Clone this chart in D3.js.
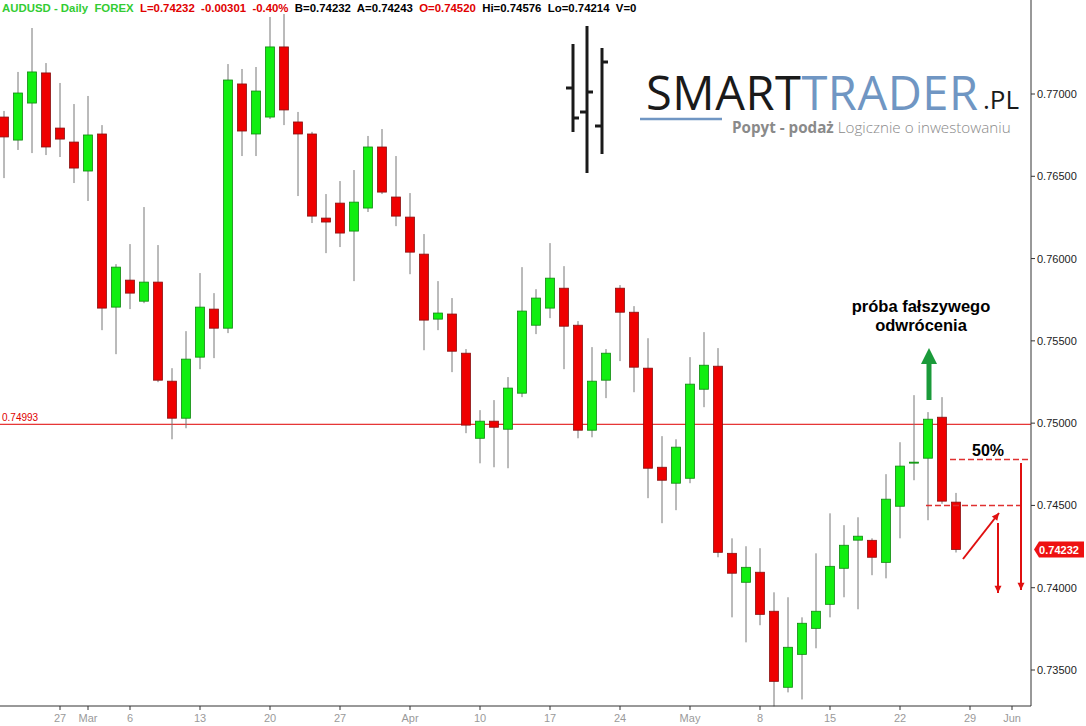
<!DOCTYPE html>
<html><head><meta charset="utf-8">
<script src="https://cdn.jsdelivr.net/npm/d3@7"></script>
<style>body{margin:0;background:#fff}svg{display:block;font-family:"Liberation Sans",Arial,sans-serif}</style>
</head><body><svg id="c" width="1086" height="726"></svg>
<script>
const dates=["2017-02-21","2017-02-22","2017-02-23","2017-02-24","2017-02-27","2017-02-28","2017-03-01","2017-03-02","2017-03-03","2017-03-06","2017-03-07","2017-03-08","2017-03-09","2017-03-10","2017-03-13","2017-03-14","2017-03-15","2017-03-16","2017-03-17","2017-03-20","2017-03-21","2017-03-22","2017-03-23","2017-03-24","2017-03-27","2017-03-28","2017-03-29","2017-03-30","2017-03-31","2017-04-03","2017-04-04","2017-04-05","2017-04-06","2017-04-07","2017-04-10","2017-04-11","2017-04-12","2017-04-13","2017-04-14","2017-04-17","2017-04-18","2017-04-19","2017-04-20","2017-04-21","2017-04-24","2017-04-25","2017-04-26","2017-04-27","2017-04-28","2017-05-01","2017-05-02","2017-05-03","2017-05-04","2017-05-05","2017-05-08","2017-05-09","2017-05-10","2017-05-11","2017-05-12","2017-05-15","2017-05-16","2017-05-17","2017-05-18","2017-05-19","2017-05-22","2017-05-23","2017-05-24","2017-05-25","2017-05-26"];
const open=[.76860,.76720,.76945,.77128,.76793,.76708,.76532,.76757,.75705,.75869,.75741,.75857,.75255,.75030,.75401,.75693,.75577,.77061,.76757,.76860,.77286,.76830,.76757,.76246,.76337,.76167,.76307,.76678,.76374,.76252,.76027,.75632,.75663,.75425,.74908,.75012,.74963,.75182,.75595,.75699,.75820,.75595,.74957,.75261,.75820,.75674,.75334,.74732,.74635,.74665,.75206,.75346,.74209,.74033,.74094,.73857,.73395,.73595,.73753,.73899,.74118,.74289,.74288,.74154,.74495,.74757,.74787,.75036,.74520];
const high=[.76897,.77134,.77401,.77188,.77067,.76939,.76988,.76811,.75966,.76088,.76313,.76082,.75334,.75559,.75912,.75790,.77182,.77152,.77164,.77468,.77486,.76891,.76770,.76392,.76471,.76538,.76745,.76787,.76623,.76398,.76149,.75863,.75760,.75450,.75079,.75140,.75280,.75948,.75814,.76094,.75954,.75620,.75462,.75450,.75839,.75711,.75516,.74921,.74902,.75401,.75553,.75456,.74300,.74252,.74240,.73972,.73942,.73820,.74209,.74452,.74380,.74428,.74300,.74690,.74884,.75170,.75067,.75158,.74576];
const low=[.76489,.76660,.76641,.76629,.76617,.76459,.76350,.75565,.75419,.75693,.75729,.75249,.74902,.74969,.75328,.75395,.75547,.76623,.76623,.76848,.76811,.76380,.76216,.76033,.76070,.75863,.76283,.76392,.76197,.75905,.75443,.75565,.75310,.74939,.74756,.74732,.74726,.75158,.75541,.75638,.75328,.74908,.74914,.75152,.75377,.75188,.74544,.74392,.74471,.74635,.75097,.74185,.73820,.73668,.73772,.73279,.73364,.73321,.73632,.73820,.73942,.73869,.74076,.74057,.74300,.74653,.74410,.74510,.74214];
const close=[.76739,.77006,.77134,.76678,.76726,.76550,.76751,.75699,.75948,.75790,.75857,.75261,.75030,.75389,.75705,.75577,.77085,.76775,.77018,.77286,.76903,.76757,.76258,.76222,.76155,.76343,.76678,.76404,.76258,.76039,.75626,.75669,.75437,.74988,.75012,.74975,.75213,.75681,.75760,.75881,.75589,.74957,.75255,.75425,.75674,.75340,.74726,.74653,.74854,.75237,.75352,.74215,.74088,.74124,.73838,.73431,.73638,.73784,.73857,.74130,.74258,.74313,.74185,.74538,.74739,.74763,.75024,.74526,.74232];
const yTicks=[0.735,0.740,0.745,0.750,0.755,0.760,0.765,0.770];
const xLabels=[["27",4],["Mar",6],["6",9],["13",14],["20",19],["27",24],["Apr",29],["10",34],["17",39],["24",44],["May",49],["8",54],["15",59],["22",64],["29",69],["Jun",72]];
const refLevel=0.74993, lastPrice=0.74232, level50=0.74779, levelLow=0.74500;

const svg=d3.select("#c");
const x=d3.scaleLinear().domain([0,1]).range([4,18]);
const y=d3.scaleLinear().domain([0.735,0.770]).range([670,94]);
const AX=1031, AY=706;

const hdr=svg.append("text").attr("x",2).attr("y",12).attr("font-size",11.4).attr("font-weight","bold").style("white-space","pre");
[["AUDUSD - Daily  FOREX  ","#33cc33"],["L=0.74232  -0.00301  -0.40%  ","#e00000"],["B=0.74232  A=0.74243  ","#000"],["O=0.74520  ","#e00000"],["Hi=0.74576  Lo=0.74214  V=0","#000"]]
 .forEach(([t,c])=>hdr.append("tspan").attr("fill",c).text(t));

const lg=svg.append("g").attr("stroke","#1a1a1a").attr("stroke-width",3).attr("fill","none");
[[573,44,132],[587,26,173],[602,48,154]].forEach(([a,b,c])=>lg.append("line").attr("x1",a).attr("x2",a).attr("y1",b).attr("y2",c));
[[566,573,88],[573,579,118],[587,593,92],[580,587,112],[602,608,62],[595,602,126]].forEach(([a,b,c])=>lg.append("line").attr("x1",a).attr("x2",b).attr("y1",c).attr("y2",c));
const lt=svg.append("text").attr("x",646).attr("y",110).attr("font-family","'Open Sans',sans-serif").attr("font-size",47).attr("letter-spacing",-2).attr("textLength",330);
lt.append("tspan").attr("fill","#1a1a1a").text("SMART");
lt.append("tspan").attr("fill","#7096c3").text("TRADER");
svg.append("text").attr("x",983).attr("y",109).attr("font-family","'Open Sans',sans-serif").attr("font-size",26).attr("fill","#1a1a1a").text(".PL");
svg.append("line").attr("x1",640).attr("x2",722).attr("y1",119).attr("y2",119).attr("stroke","#7096c3").attr("stroke-width",2.5);
const st=svg.append("text").attr("x",732).attr("y",133).attr("font-family","'Open Sans',sans-serif").attr("font-size",15.2).attr("fill","#8a8a8a");
st.append("tspan").attr("font-weight","bold").text("Popyt - podaż ");
st.append("tspan").attr("font-weight","300").text(" Logicznie o inwestowaniu");

svg.append("line").attr("x1",0).attr("x2",AX).attr("y1",y(refLevel)).attr("y2",y(refLevel)).attr("stroke","#e00000");
svg.append("text").attr("x",2).attr("y",y(refLevel)-3).attr("font-size",10).attr("fill","#e00000").text(refLevel.toFixed(5));

const idx=d3.range(dates.length);
const g=svg.append("g");
g.selectAll("line.w").data(idx).join("line").attr("x1",i=>x(i)).attr("x2",i=>x(i)).attr("y1",i=>y(high[i])).attr("y2",i=>y(low[i])).attr("stroke","#777");
g.selectAll("rect").data(idx).join("rect").attr("x",i=>x(i)-4.5).attr("width",9)
 .attr("y",i=>y(Math.max(open[i],close[i]))).attr("height",i=>Math.max(1,Math.abs(y(open[i])-y(close[i]))))
 .attr("fill",i=>close[i]>=open[i]?"#11ee11":"#ee0000").attr("stroke",i=>close[i]>=open[i]?"#118811":"#881111").attr("stroke-width",0.8);

svg.append("line").attr("x1",AX).attr("x2",AX).attr("y1",0).attr("y2",AY).attr("stroke","#333");
svg.append("line").attr("x1",0).attr("x2",AX).attr("y1",AY).attr("y2",AY).attr("stroke","#333");
yTicks.forEach(t=>{svg.append("line").attr("x1",AX).attr("x2",AX+4).attr("y1",y(t)).attr("y2",y(t)).attr("stroke","#333");
 svg.append("text").attr("x",AX+6).attr("y",y(t)+4).attr("font-size",11).attr("fill","#222").text(t.toFixed(5));});
xLabels.forEach(([l,i])=>{svg.append("line").attr("x1",x(i)).attr("x2",x(i)).attr("y1",AY).attr("y2",AY+4).attr("stroke","#333");
 svg.append("text").attr("x",x(i)).attr("y",722).attr("text-anchor","middle").attr("font-size",11).attr("fill","#9a9a9a").text(l);});

svg.append("path").attr("d",`M${AX+3},${y(lastPrice)} L${AX+8},${y(lastPrice)-8} H1084 V${y(lastPrice)+8} H${AX+8} Z`).attr("fill","#ee1111");
svg.append("text").attr("x",1059).attr("y",y(lastPrice)+4).attr("text-anchor","middle").attr("font-size",11).attr("font-weight","bold").attr("fill","#fff").text(lastPrice.toFixed(5));

svg.append("text").attr("x",921).attr("y",312).attr("text-anchor","middle").attr("font-size",16.5).attr("font-weight","bold").text("próba fałszywego");
svg.append("text").attr("x",921).attr("y",331).attr("text-anchor","middle").attr("font-size",16.5).attr("font-weight","bold").text("odwrócenia");
svg.append("line").attr("x1",929).attr("x2",929).attr("y1",400).attr("y2",362).attr("stroke","#1a9a3a").attr("stroke-width",5);
svg.append("path").attr("d","M921,364 L929,348 L937,364 Z").attr("fill","#1a9a3a");
svg.append("line").attr("x1",950).attr("x2",AX).attr("y1",y(level50)).attr("y2",y(level50)).attr("stroke","#e03030").attr("stroke-width",1.6).attr("stroke-dasharray","6,3");
svg.append("line").attr("x1",926).attr("x2",1025).attr("y1",y(levelLow)).attr("y2",y(levelLow)).attr("stroke","#e03030").attr("stroke-width",1.6).attr("stroke-dasharray","6,3");
svg.append("text").attr("x",988).attr("y",456).attr("text-anchor","middle").attr("font-size",16).attr("font-weight","bold").text("50%");
const ar=(x1,y1,x2,y2)=>{svg.append("line").attr("x1",x1).attr("y1",y1).attr("x2",x2).attr("y2",y2).attr("stroke","#e01010").attr("stroke-width",2);
 const a=Math.atan2(y2-y1,x2-x1),L=8,w=0.45;
 svg.append("path").attr("d",`M${x2},${y2} L${x2-L*Math.cos(a-w)},${y2-L*Math.sin(a-w)} L${x2-L*Math.cos(a+w)},${y2-L*Math.sin(a+w)} Z`).attr("fill","#e01010");};
ar(963,559,999,513); ar(998,523,998,593); ar(1021,463,1021,590);
</script></body></html>
